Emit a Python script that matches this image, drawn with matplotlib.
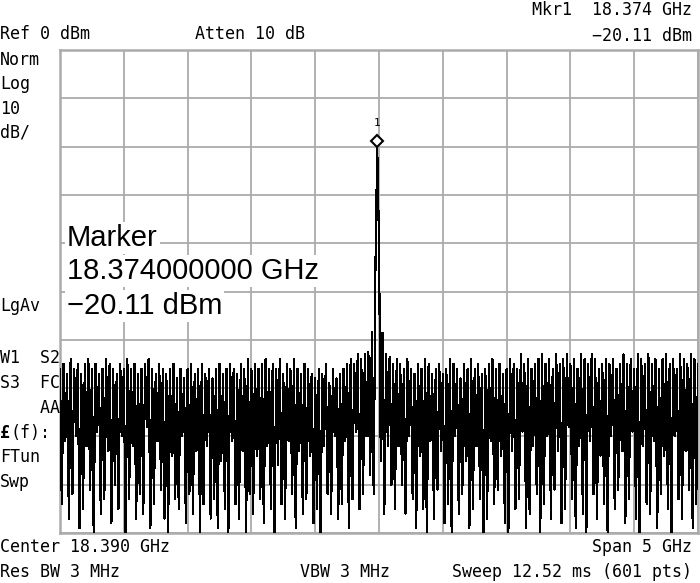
import numpy as np
import matplotlib
matplotlib.use("Agg")
import matplotlib.pyplot as plt
from matplotlib import font_manager as fm
import matplotlib.transforms as mtransforms

# ---------------- data ----------------
center_ghz = 18.390
span_ghz = 5.0
ref_dbm = 0.0
db_per_div = 10.0

# noise floor left of the carrier: alternating local maxima / minima (dBm)
left_hi = [-66, -65, -67, -64, -66, -65, -67, -65, -64, -66,
           -65, -67, -66, -64, -65, -66, -67, -65, -66, -64,
           -66, -65, -67, -66, -65, -64, -66, -67, -65, -66,
           -67, -66, -65, -68, -66, -68, -66, -65, -67, -66,
           -65, -67, -66, -68, -66, -65, -67, -66, -65, -66,
           -67, -65, -66, -64, -66, -65, -66, -65, -64, -66,
           -65, -66, -64, -67, -65, -66, -64, -66, -67, -65,
           -66, -67, -68, -66, -67, -65, -69, -66, -68, -67,
           -66, -65, -64, -65, -63]
left_lo = [-94, -81, -97, -92, -80, -99, -95, -82, -91, -100,
           -79, -96, -93, -83, -98, -90, -95, -80, -100, -93,
           -82, -97, -92, -96, -78, -99, -94, -81, -91, -97,
           -100, -84, -93, -95, -80, -98, -92, -96, -83, -100,
           -94, -82, -97, -93, -99, -85, -95, -100, -81, -94,
           -97, -83, -100, -92, -96, -84, -93, -98, -82, -95,
           -100, -86, -94, -97, -81, -92, -99, -83, -96, -93,
           -84, -98, -95, -100, -82, -92, -96, -80, -97, -94,
           -81, -99, -93, -79, -95]

# carrier and its close-in skirt (dBm)
peak_zone = [-64, -92, -63, -80, -62.5, -88, -58.4, -92, -44.5, -20.11,
             -39.8, -85, -58.6, -96, -63, -82, -63.5, -90, -65, -95, -64]

# noise floor right of the carrier
right_lo = [-82, -90, -96, -80, -93, -99, -84, -95, -100, -81,
            -97, -91, -83, -98, -94, -100, -80, -96, -92, -85,
            -99, -95, -82, -93, -100, -97, -81, -94, -91, -84,
            -98, -100, -83, -95, -93, -79, -99, -96, -82, -92,
            -100, -94, -80, -97, -91, -83, -98, -95, -78, -93,
            -99, -82, -96, -100, -81, -92, -97, -84, -94, -100,
            -80, -95, -91, -83, -98, -93, -79, -97, -100, -82,
            -94, -96, -81, -99, -92, -84, -95, -100, -80, -93,
            -97, -83, -91, -99, -94]
right_hi = [-65, -66, -64, -66, -67, -65, -66, -64, -65, -67,
            -66, -65, -67, -66, -64, -65, -66, -68, -65, -66,
            -64, -66, -65, -67, -66, -65, -64, -66, -65, -67,
            -66, -64, -65, -66, -63, -65, -64, -66, -65, -64,
            -63, -65, -64, -66, -63, -65, -64, -63, -65, -64,
            -66, -63, -64, -65, -63, -64, -66, -65, -64, -65,
            -64, -66, -65, -63, -65, -64, -66, -63, -64, -65,
            -63, -65, -64, -66, -64, -63, -65, -64, -66, -63,
            -64, -65, -63, -64, -65]

side_labels_top = ["Norm", "Log", "10", "dB/"]
side_labels_bottom = ["W1  S2", "S3  FC", "    AA", None, "FTun", "Swp"]

# ---------------- build trace ----------------
trace = np.concatenate([np.column_stack([left_hi, left_lo]).ravel(),
                        np.array(peak_zone, dtype=float),
                        np.column_stack([right_lo, right_hi]).ravel()])
f_start = center_ghz - span_ghz / 2
f_stop = center_ghz + span_ghz / 2
freq = np.linspace(f_start, f_stop, trace.size)
pk = int(np.argmax(trace))

# ---------------- figure ----------------
W, H = 700, 583
fig = plt.figure(figsize=(W / 100, H / 100), dpi=100)
fig.patch.set_facecolor("white")
ax = fig.add_axes([60 / W, 50 / H, 638 / W, 483 / H])

grid_c = "#ababab"
ax.set_xlim(f_start, f_stop)
ax.set_ylim(ref_dbm - 10 * db_per_div, ref_dbm)
ax.set_xticks(np.linspace(f_start, f_stop, 11))
ax.set_yticks(np.arange(ref_dbm - 10 * db_per_div, ref_dbm + 1, db_per_div))
ax.tick_params(length=0, labelbottom=False, labelleft=False)
ax.grid(True, color=grid_c, lw=1.3)
ax.set_axisbelow(True)
for s in ax.spines.values():
    s.set_color(grid_c)
    s.set_linewidth(1.8)

ax.plot(freq, trace, color="black", lw=0.85, antialiased=False, zorder=3)

# marker diamond
off = mtransforms.offset_copy(ax.transData, fig=fig, x=0, y=4.5, units="points")
ax.plot([freq[pk]], [trace[pk]], marker="D", ms=6.5, mfc="white", mec="black",
        mew=1.5, transform=off, zorder=5, clip_on=False)
off2 = mtransforms.offset_copy(ax.transData, fig=fig, x=0, y=14, units="points")
ax.text(freq[pk], trace[pk], "1", transform=off2, ha="center", va="bottom",
        fontsize=8, family="DejaVu Sans Mono", zorder=5)

# ---------------- texts ----------------
mono = "DejaVu Sans Mono"
fs = 12

def ftxt(x, y, s, ha="left", **kw):
    fig.text(x / W, 1 - y / H, s, ha=ha, va="center", fontsize=fs,
             family=kw.pop("family", mono), **kw)

ftxt(0, 34, "Ref 0 dBm")
ftxt(195, 34, "Atten 10 dB")
ftxt(692, 10, "Mkr1  18.374 GHz", ha="right")
ftxt(692, 36, "\u221220.11 dBm", ha="right")

for i, s in enumerate(side_labels_top):
    ftxt(0, 60 + 24.3 * i, s)
ftxt(0, 306, "LgAv")
for i, s in enumerate(side_labels_bottom):
    if s is not None:
        ftxt(0, 358 + 24.8 * i, s)
ftxt(0, 433, "\u00a3", fontweight="bold")
ftxt(10, 433, "(f):")

ftxt(0, 547, "Center 18.390 GHz")
ftxt(692, 547, "Span 5 GHz", ha="right")
ftxt(0, 572, "Res BW 3 MHz")
ftxt(300, 572, "VBW 3 MHz")
ftxt(692, 572, "Sweep 12.52 ms (601 pts)", ha="right")

# big marker readout
try:
    fm.findfont(fm.FontProperties(family="Liberation Sans Narrow"), fallback_to_default=False)
    big_family, big_fs = "Liberation Sans Narrow", 23
except Exception:
    big_family, big_fs = "Liberation Sans", 21

bb = dict(facecolor="white", edgecolor="none", pad=1.5)
for yy, s in [(238, "Marker"), (271, "18.374000000 GHz"), (306, "\u221220.11 dBm")]:
    fig.text(67 / W, 1 - yy / H, s, ha="left", va="center", fontsize=big_fs,
             family=big_family, bbox=bb, zorder=10)

fig.savefig("out.png", dpi=100)
